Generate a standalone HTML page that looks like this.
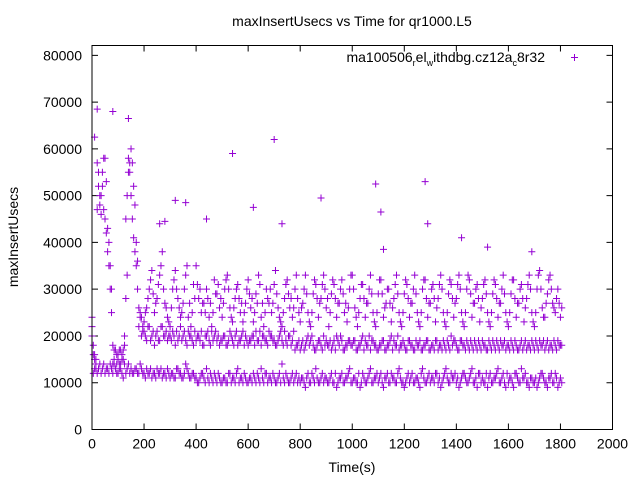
<!DOCTYPE html>
<html><head><meta charset="utf-8"><style>
html,body{margin:0;padding:0;background:#fff;}
svg{display:block;font-family:"Liberation Sans",sans-serif;}
</style></head><body>
<svg id="chart" width="640" height="480" xmlns="http://www.w3.org/2000/svg">
<text x="352" y="26" font-size="14" text-anchor="middle">maxInsertUsecs vs Time for qr1000.L5</text>
<text x="352" y="472" font-size="14" text-anchor="middle">Time(s)</text>
<text transform="translate(18,237) rotate(-90)" font-size="14" text-anchor="middle">maxInsertUsecs</text>
<g id="axes"></g>
<g id="points"></g>
<g>
<text x="545" y="62" font-size="14" text-anchor="end">ma100506<tspan font-size="9" dy="4">r</tspan><tspan dy="-4">el</tspan><tspan font-size="9" dy="4">w</tspan><tspan dy="-4">ithdbg.cz12a</tspan><tspan font-size="9" dy="4">c</tspan><tspan dy="-4">8r32</tspan></text>
<path d="M571,57.5h7M574.5,54v7" stroke="#9400d3" stroke-width="1"/>
</g>
<rect x="92" y="45.5" width="520.5" height="384" fill="none" stroke="#000" stroke-width="1"/>
</svg>
<script>
const xTicks=[0,200,400,600,800,1000,1200,1400,1600,1800,2000];
const yTicks=[0,10000,20000,30000,40000,50000,60000,70000,80000];
const tStart=0, tStep=10, tOffB=5;
const lowK=[22,13,12,14,13,12,13,14,12,13,12,13,11,12,14,13,12,13,12,13,12,13,12,11,12,13,12,11,12,13,11,12,11,13,12,11,14,12,11,12,11,10,12,11,13,10,11,12,10,11,10,11,10,12,11,10,13,11,10,11,10,11,12,10,11,13,10,12,11,10,11,10,12,14,10,11,10,12,11,10,10,11,9,12,10,11,13,10,11,10,11,10,12,10,9,11,12,10,11,13,10,11,10,9,12,10,11,13,10,11,10,12,9,11,10,12,11,10,13,10,9,11,10,12,10,11,9,13,10,11,10,11,12,10,9,11,13,10,12,11,10,9,11,12,10,11,13,10,9,12,11,10,9,12,10,11,13,10,12,9,10,11,9,12,10,13,11,10,9,11,10,9,11,12,10,9,11,10,12,9,11];
const midK=[20,16,47,50,55,45,38,30,18,17,16,17,15,28,58,60,52,40,22,20,21,19,22,20,18,21,19,22,20,19,20,21,18,19,22,20,19,21,20,18,19,20,21,18,20,19,21,20,19,18,19,20,18,21,19,20,18,19,21,20,18,19,20,21,19,18,20,19,21,20,19,18,20,19,21,18,20,19,17,18,17,19,18,20,19,18,17,19,18,20,19,18,17,19,20,18,19,17,18,19,18,19,17,18,20,19,18,17,19,18,17,18,19,17,18,20,19,18,17,18,18,17,19,18,17,18,19,17,18,19,17,18,19,17,18,19,17,18,20,19,18,17,19,18,19,17,18,19,17,18,19,18,17,18,19,17,18,19,18,17,18,19,17,18,17,19,18,17,18,19,17,18,19,18,17,19,18,17,18,19,18];
const spikeK=[24,15,57,48,52,58,43,35,14,13,15,14,17,45,55,50,41,35,26,24,23,26,30,34,25,28,33,38,27,24,22,30,34,28,24,27,33,24,22,31,35,28,25,27,30,24,22,32,29,26,24,30,33,26,23,28,31,25,23,27,32,26,23,29,33,24,22,30,27,25,31,29,24,22,28,32,26,24,30,28,23,27,33,25,22,29,31,24,28,33,26,22,29,31,24,27,32,25,23,30,33,26,22,28,31,24,27,33,25,22,29,32,24,27,30,23,28,33,25,22,29,31,24,27,33,25,22,30,32,24,27,31,23,28,33,25,22,29,31,24,28,33,25,22,30,32,24,27,31,23,28,32,25,22,29,31,24,27,33,25,22,29,32,24,27,31,23,28,33,25,22,30,34,26,24,29,33,27,25,30,24];
const lowB=[12,14,13,12,14,13,12,13,14,12,13,12,14,13,12,12,13,12,14,12,11,12,13,12,11,12,13,12,11,12,12,11,13,12,11,12,13,11,12,11,10,11,12,10,11,12,10,11,12,10,11,10,12,10,11,12,10,11,12,10,11,10,11,12,10,11,12,10,11,12,10,11,10,11,12,10,11,10,12,11,11,10,11,10,12,10,11,10,12,11,10,11,10,12,10,11,10,11,12,10,11,10,12,10,11,10,12,10,11,12,11,10,11,12,10,11,10,12,11,10,10,12,11,10,11,10,12,11,10,12,11,10,12,11,10,12,11,10,11,12,11,10,12,11,10,12,10,11,12,10,10,12,11,10,11,12,10,11,10,12,11,10,12,11,10,11,12,10,11,10,11,10,12,11,10,11,12,10,11,10,10];
const midB=[18,15,52,46,58,42,35,25,17,16,17,16,18,33,55,57,48,36,24,21,20,22,19,21,20,19,22,20,21,20,19,20,21,20,19,21,18,20,19,21,20,19,18,20,21,18,19,21,20,19,20,18,19,20,18,21,19,20,18,19,19,20,18,19,21,20,19,18,20,19,18,19,21,18,19,20,18,21,18,19,18,17,19,18,20,17,18,19,17,18,18,19,18,17,19,20,17,18,19,18,19,17,18,19,17,18,20,19,18,17,18,19,17,18,19,17,18,20,18,19,17,19,18,17,19,18,17,18,19,17,18,17,19,18,17,18,19,17,18,19,17,19,18,17,18,19,17,18,19,17,18,17,19,17,18,19,17,18,19,18,17,18,19,17,18,17,19,18,17,18,19,17,18,19,18,17,18,19,17,18,18];
const spikeB=[16,13,55,50,47,53,40,30,15,14,14,15,20,50,57,45,38,30,25,22,25,28,32,29,27,31,35,30,26,23,26,32,30,26,25,30,35,27,25,28,31,30,27,25,28,27,25,29,31,28,27,32,30,24,26,30,28,27,25,30,29,28,25,27,31,27,25,28,30,27,34,26,23,25,31,29,28,26,33,25,26,30,29,23,25,32,28,27,31,30,28,25,32,28,27,30,29,27,26,33,30,24,25,31,28,27,30,29,23,25,32,29,26,30,27,26,31,29,23,25,32,28,27,30,29,23,25,32,28,27,30,28,26,31,30,23,25,32,28,27,31,30,23,25,33,29,27,30,28,26,31,29,23,25,32,28,27,30,29,23,25,32,28,27,30,28,26,31,30,23,25,33,30,24,27,32,30,26,28,27,26];
const outT=[10,20,80,140,260,280,320,360,440,540,620,700,730,880,1090,1110,1120,1280,1290,1420,1520,1690];
const outK=[62.5,68.5,68,66.5,44,44.5,49,48.5,45,59,47.5,62,44,49.5,52.5,46.5,38.5,53,44,41,39,38];
const X0=92,X1=612.5,Y0=429.5,Y1=45.5,YMAX=82100;
function xs(v){return X0+(v-0)/(2000-0)*(X1-X0);}
function ys(v){return Y0-(v-0)/(YMAX-0)*(Y0-Y1);}
const NS="http://www.w3.org/2000/svg";
const axes=document.getElementById('axes');
let d='';
xTicks.forEach(t=>{const x=xs(t);d+=`M${x},${Y0}v-6M${x},${Y1}v6`;
 const tx=document.createElementNS(NS,'text');tx.setAttribute('x',x);tx.setAttribute('y',Y0+19);tx.setAttribute('font-size','14');tx.setAttribute('text-anchor','middle');tx.textContent=t;
 
 
 axes.appendChild(tx);});
yTicks.forEach(t=>{const y=ys(t);d+=`M${X0},${y}h6M${X1},${y}h-6`;
 const tx=document.createElementNS(NS,'text');tx.setAttribute('x',82);tx.setAttribute('y',y+5);tx.setAttribute('font-size','14');tx.setAttribute('text-anchor','end');tx.textContent=t;
 
 
 axes.appendChild(tx);});
const tp=document.createElementNS(NS,'path');tp.setAttribute('d',d);tp.setAttribute('stroke','#000');tp.setAttribute('fill','none');


axes.appendChild(tp);
let pd='';
function plus(t,k){const x=xs(t),y=ys(k*1000);pd+=`M${x-3.5},${y}h7M${x},${y-3.5}v7`;}
[lowK,midK,spikeK].forEach(arr=>arr.forEach((k,i)=>plus(tStart+i*tStep,k)));
[lowB,midB,spikeB].forEach(arr=>arr.forEach((k,i)=>plus(tStart+tOffB+i*tStep,k)));
outT.forEach((t,i)=>plus(t,outK[i]));
const pp=document.createElementNS(NS,'path');pp.setAttribute('d',pd);pp.setAttribute('stroke','#9400d3');pp.setAttribute('fill','none');pp.setAttribute('stroke-width','1');


document.getElementById('points').appendChild(pp);
</script>
</body></html>
